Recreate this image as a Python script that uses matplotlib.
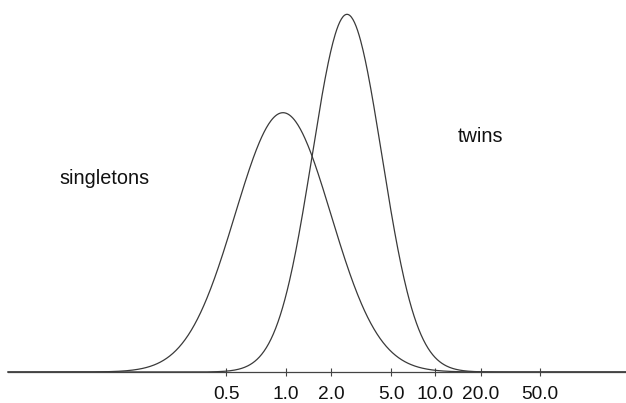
import matplotlib.pyplot as plt
import numpy as np

# group labels and distribution parameters (axis units: one unit ~ one tick gap)
groups = ['singletons', 'twins']
means = [0.95, 2.017]
sds = [0.80, 0.58]

# tick positions along the axis and their labels
tick_pos = [0.0, 1.0, 1.75, 2.75, 3.48, 4.25, 5.23]
tick_labels = ['0.5', '1.0', '2.0', '5.0', '10.0', '20.0', '50.0']

# where the group names sit (axis units, density units)
label_x = [-2.783, 3.867]
label_y = [0.3615, 0.4423]

plt.rcParams['font.family'] = ['Liberation Sans', 'DejaVu Sans']

fig = plt.figure(figsize=(6.26, 4.03), dpi=100)
ax = fig.add_axes([0, 0, 1, 1])
ax.set_xlim(-3.767, 6.667)
ax.set_ylim(-31 / 520, 372 / 520)

line_col = '#3a3a3a'
t = np.linspace(-3.633, 6.667, 800)
for m, s in zip(means, sds):
    dens = np.exp(-0.5 * ((t - m) / s) ** 2) / (s * np.sqrt(2 * np.pi))
    ax.plot(t, dens, color=line_col, lw=0.9)

for name, x, y in zip(groups, label_x, label_y):
    ax.text(x, y, name, fontsize=14.3, va='baseline', ha='left', color='#111111')

for side in ['top', 'left', 'right']:
    ax.spines[side].set_visible(False)
ax.spines['bottom'].set_position(('data', 0))
ax.spines['bottom'].set_bounds(-3.633, 6.667)
ax.spines['bottom'].set_color('#444444')
ax.spines['bottom'].set_linewidth(0.9)

ax.set_xticks(tick_pos)
ax.set_xticklabels(tick_labels)
ax.set_yticks([])
ax.tick_params(axis='x', direction='inout', length=5.8, width=0.8, color='#444444',
               labelsize=13.8, pad=7.5, labelcolor='#111111')

fig.savefig('out.png', dpi=100)
